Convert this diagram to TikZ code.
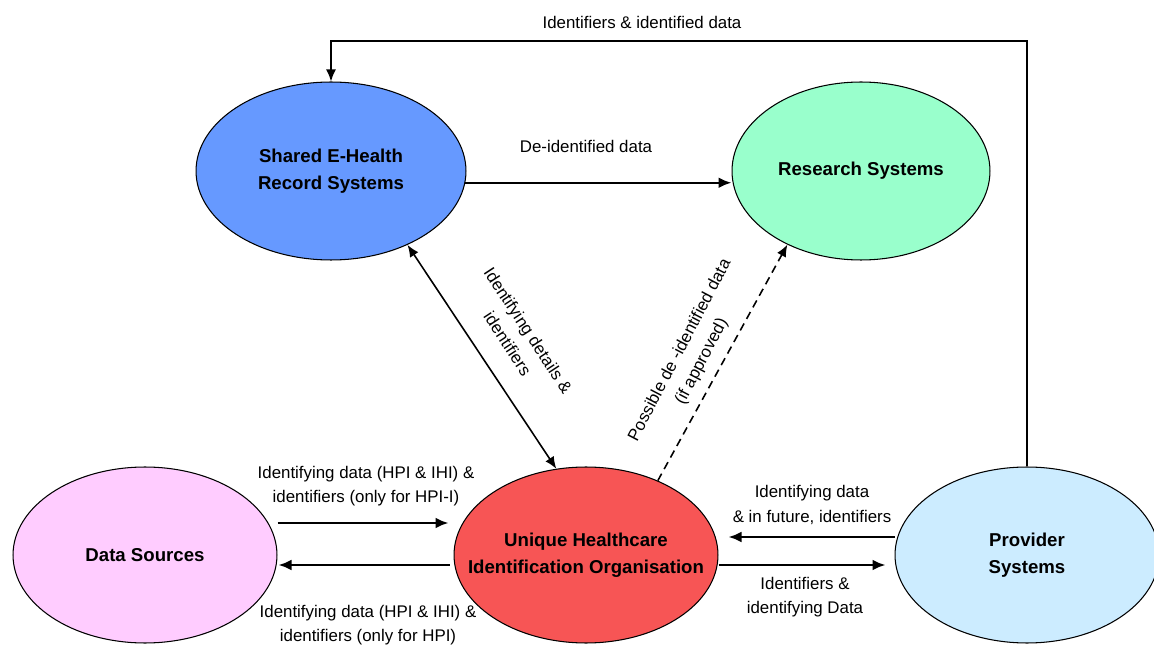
\documentclass[tikz,border=0pt]{standalone}
\usepackage{fontspec}
\setmainfont{Liberation Sans}
\usetikzlibrary{arrows.meta,shapes.geometric}
\definecolor{ehrblue}{HTML}{6699FF}
\definecolor{resgreen}{HTML}{99FFCC}
\definecolor{srcpink}{HTML}{FFCCFF}
\definecolor{uhired}{HTML}{F75555}
\definecolor{provblue}{HTML}{CCECFF}

\begin{document}
\begin{tikzpicture}[x=0.02cm,y=-0.02cm,
    sys node/.style={ellipse,draw,line width=0.6pt,inner xsep=-0.7cm,inner ysep=-0.3cm,
      minimum width=5.28cm,minimum height=3.52cm,align=center,
      font=\fontsize{10.6}{15.3}\selectfont\bfseries},
    flow label/.style={align=center,font=\fontsize{9.6}{13.9}\selectfont},
    flow/.style={-{Latex[length=2.6mm,width=2.2mm]},line width=1.4pt},
    link/.style={-{Latex[length=2.4mm,width=2mm]},line width=0.9pt}]
  \useasboundingbox (0,0) rectangle (1154,645);

  %systems%
  \node[sys node,fill=ehrblue,minimum width=5.4cm,minimum height=3.56cm] (shared) at (331,171) {Shared E-Health\\Record Systems};
  \node[sys node,fill=resgreen,minimum width=5.16cm,minimum height=3.56cm] (research) at (861,171) {Research Systems};
  \node[sys node,fill=srcpink] (sources) at (145,555) {Data Sources};
  \node[sys node,fill=uhired] (uhio) at (586,555) {Unique Healthcare\\Identification Organisation};
  \node[sys node,fill=provblue] (provider) at (1027,555) {Provider\\Systems};

  %top route back to the record systems%
  \coordinate (route) at (0,41);
  \draw[link] (provider.north) -- (provider.north |- route) -| (shared.north);
  \node[flow label] (lbl-top) at (642,22) {Identifiers \& identified data};

  \draw[flow] (shared.-5) -- (shared.-5 -| research.west);
  \node[flow label] (lbl-deid) at (586,146) {De-identified data};

  \draw[link,{Latex[length=2.4mm,width=2mm]}-{Latex[length=2.4mm,width=2mm]}] (shared.-44) -- (uhio.109);
  \node[flow label,rotate=-56.8] (lbl-details) at (518,337) {Identifying details \&\\identifiers};

  \draw[link,dash pattern=on 4.5pt off 3pt] (uhio.46) -- (research.-135);
  \node[flow label,rotate=62.4] (lbl-possible) at (691,356) {Possible de -identified data\\(if approved)};

  %data sources <-> uhio%
  \draw[flow] ([yshift=0.64cm]sources.east) -- ([xshift=-0.1cm,yshift=0.64cm]uhio.west);
  \draw[flow] ([xshift=-0.08cm,yshift=-0.2cm]uhio.west) -- ([xshift=0.02cm,yshift=-0.2cm]sources.east);
  \node[flow label] (lbl-in) at (366,486) {Identifying data (HPI \& IHI) \&\\identifiers (only for HPI-I)};
  \node[flow label] (lbl-out) at (368,625) {Identifying data (HPI \& IHI) \&\\identifiers (only for HPI)};

  %provider <-> uhio%
  \draw[flow] ([yshift=0.36cm]provider.west) -- ([xshift=0.2cm,yshift=0.36cm]uhio.east);
  \draw[flow] ([yshift=-0.2cm]uhio.east) -- ([xshift=-0.18cm,yshift=-0.2cm]provider.west);
  \node[flow label] (lbl-prov) at (812,505) {Identifying data\\\& in future, identifiers};
  \node[flow label] (lbl-uhio) at (805,597) {Identifiers \&\\identifying Data};
\end{tikzpicture}
\end{document}
